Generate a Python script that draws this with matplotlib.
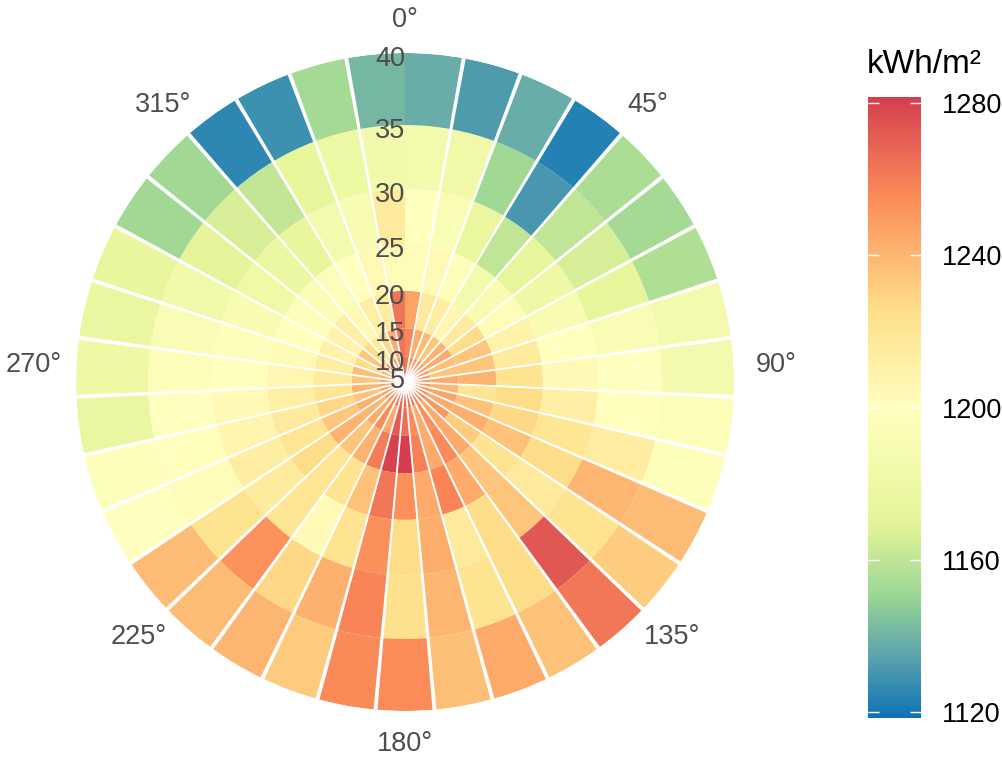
import numpy as np
import matplotlib.pyplot as plt
from matplotlib.colors import LinearSegmentedColormap, Normalize
from matplotlib.cm import ScalarMappable

plt.rcParams['font.family'] = ['Liberation Sans', 'DejaVu Sans']

# azimuth of each sector (deg) and tilt of each ring (deg)
azimuth = np.arange(10, 360, 10)
tilts = [10, 15, 20, 25, 30, 35, 40]

# annual yield, kWh/m2 (one list per tilt ring, sectors clockwise from north)
tilt_5 = 1268
tilt_10 = [1262, 1255, 1252, 1250, 1248, 1250, 1252, 1250, 1248, 1250, 1252, 1255, 1258, 1255, 1258, 1262, 1262, 1270, 1268,
           1262, 1258, 1256, 1252, 1250, 1248, 1246, 1246, 1244, 1244, 1246, 1246, 1248, 1250, 1255, 1265]
tilt_15 = [1257, 1243, 1238, 1235, 1241, 1244, 1237, 1235, 1244, 1240, 1246, 1244, 1252, 1244, 1254, 1244, 1255, 1264, 1272,
           1244, 1255, 1244, 1240, 1243, 1235, 1240, 1234, 1237, 1226, 1235, 1226, 1216, 1228, 1243, 1263]
tilt_20 = [1247, 1217, 1214, 1207, 1216, 1226, 1234, 1235, 1241, 1221, 1236, 1243, 1232, 1244, 1256, 1244, 1259, 1281.6, 1280,
           1260, 1241, 1235, 1241, 1234, 1228, 1221, 1217, 1214, 1210, 1209, 1213, 1205, 1213, 1216, 1263]
tilt_25 = [1202, 1205, 1196, 1185, 1190, 1202, 1210, 1216, 1222, 1226, 1228, 1236, 1222, 1234, 1244, 1258, 1244, 1254, 1262,
           1236, 1222, 1221, 1226, 1221, 1217, 1213, 1207, 1204, 1200, 1197, 1193, 1195, 1200, 1205, 1203]
tilt_30 = [1200, 1192, 1175, 1160, 1172, 1180, 1190, 1200, 1205, 1213, 1220, 1226, 1217, 1235, 1226, 1217, 1243, 1226, 1254,
           1222, 1204, 1220, 1216, 1214, 1208, 1205, 1200, 1197, 1190, 1181, 1177, 1174, 1186, 1190, 1216]
tilt_35 = [1185, 1183, 1152, 1131, 1160, 1166, 1172, 1192, 1199, 1201, 1215, 1240, 1222, 1273, 1226, 1222, 1240, 1224, 1258,
           1242, 1228, 1253, 1222, 1202, 1201, 1199, 1196, 1192, 1184, 1170, 1166, 1161, 1172, 1178, 1184]
tilt_40 = [1138, 1132, 1138, 1123, 1155, 1153, 1156, 1186, 1186, 1195, 1196, 1238, 1232, 1262, 1236, 1244, 1237, 1255, 1256,
           1233, 1240, 1238, 1238, 1199, 1198, 1176, 1180, 1176, 1174, 1152, 1152, 1125, 1128, 1153, 1141]
rings = [tilt_10, tilt_15, tilt_20, tilt_25, tilt_30, tilt_35, tilt_40]

yield_limits = (1118.4, 1281.6)
r_ticks = [5, 10, 15, 20, 25, 30, 35, 40]
dir_ticks = [0, 45, 90, 135, 180, 225, 270, 315]
dir_labels = ['0°', '45°', '90°', '135°', '180°', '225°', '270°', '315°']
cb_ticks = [1120, 1160, 1200, 1240, 1280]


def theta(az):
    # azimuth axis runs from 5 to 355 around the full circle
    return np.deg2rad((np.asarray(az, dtype=float) - 5) * 360 / 350)


def rad(t):
    # stretched radial scale for tilt
    return (np.asarray(t, dtype=float) / 40) ** 1.85


cmap = LinearSegmentedColormap.from_list('yield', [
    (0.0, '#0f74b5'), (0.101, '#5da4ad'), (0.193, '#99d594'), (0.316, '#e6f598'),
    (0.500, '#ffffbf'), (0.653, '#fee08b'), (0.837, '#fc8d59'), (1.0, '#d53e4f')])
norm = Normalize(*yield_limits)

fig = plt.figure(figsize=(10.03, 7.69), dpi=100)
ax = fig.add_axes([0.0758, 0.0754, 0.656, 0.8557], projection='polar')
ax.set_theta_zero_location('N')
ax.set_theta_direction(-1)

step = theta(15) - theta(5)
ax.bar(0, rad(5), width=2 * np.pi, bottom=0, color=cmap(norm(tilt_5)), linewidth=0)
for t, vals in zip(tilts, rings):
    ax.bar(theta(azimuth), rad(t) - rad(t - 5), width=step, bottom=rad(t - 5),
           color=cmap(norm(vals)), linewidth=0, align='center')

# white separators between sectors
edges = theta(azimuth[:-1] + 5)
ax.bar(edges, 1.0, width=np.deg2rad(0.7), bottom=0, color='white', linewidth=0)
ax.vlines(edges, 0, 1.0, color='white', lw=1.3)

ax.set_ylim(0, 1)
ax.set_axis_off()

for t in r_ticks:
    ax.text(0, rad(t) - 0.018, str(t), ha='right', va='center', fontsize=19.5, color='#4d4d4d')

for d, lab in zip(np.clip(dir_ticks, 5, 355), dir_labels):
    th = theta(d)
    ax.text(th, 1.10 + 0.03 * abs(np.sin(th)), lab, ha='center', va='center',
            fontsize=19.5, color='#4d4d4d')

cax = fig.add_axes([0.8654, 0.0663, 0.0528, 0.8075])
cb = fig.colorbar(ScalarMappable(norm=norm, cmap=cmap), cax=cax)
cb.outline.set_visible(False)
cb.set_ticks(cb_ticks)
cax.tick_params(length=0, labelsize=19.5, pad=15)
tr = cax.get_yaxis_transform()
cax.hlines(cb_ticks, 0, 0.2, transform=tr, color='white', lw=1)
cax.hlines(cb_ticks, 0.8, 1.0, transform=tr, color='white', lw=1)

fig.text(0.864, 0.916, 'kWh/m²', ha='left', va='center', fontsize=24)

fig.savefig('out.png', dpi=100)
